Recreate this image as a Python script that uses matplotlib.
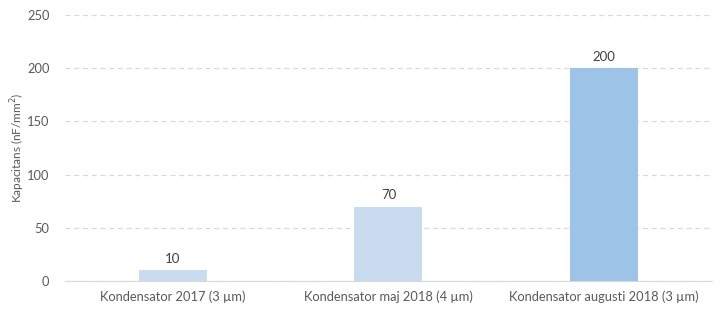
import matplotlib
matplotlib.use("Agg")
import matplotlib.pyplot as plt

categories = ["Kondensator 2017 (3 µm)", "Kondensator maj 2018 (4 µm)",
              "Kondensator augusti 2018 (3 µm)"]
values = [10, 70, 200]
colors = ["#c9dcef", "#c9dcef", "#9dc3e6"]
yticks = [0, 50, 100, 150, 200, 250]

plt.rcParams['font.family'] = ['Lato', 'DejaVu Sans']

fig = plt.figure(figsize=(7.21, 3.14), dpi=100)
ax = fig.add_axes([0.090, 0.105, 0.8975, 0.847])

x = list(range(len(categories)))
bars = ax.bar(x, values, width=0.315, color=colors, zorder=3)
for b, v in zip(bars, values):
    ax.text(b.get_x() + b.get_width() / 2, v + 5, str(v), ha="center", va="bottom",
            fontsize=9.5, color="#404040")

ax.set_xlim(-0.5, 2.5)
ax.set_ylim(0, 250)
ax.set_yticks(yticks)
ax.set_xticks(x)
ax.set_xticklabels(categories)
ax.tick_params(axis="both", length=0, labelsize=9.3, labelcolor="#595959")
ax.tick_params(axis="y", pad=11)
ax.tick_params(axis="x", pad=7)
ax.grid(axis="y", color="#d9d9d9", linestyle=(0, (4, 3)), linewidth=0.9, zorder=0)
for s in ["top", "right", "left"]:
    ax.spines[s].set_visible(False)
ax.spines["bottom"].set_color("#d9d9d9")
ax.set_ylabel("Kapacitans (nF/mm$^2$)", fontsize=8.5, color="#595959")
ax.yaxis.set_label_coords(-0.058, 0.5)

fig.savefig("out.png", dpi=100)
